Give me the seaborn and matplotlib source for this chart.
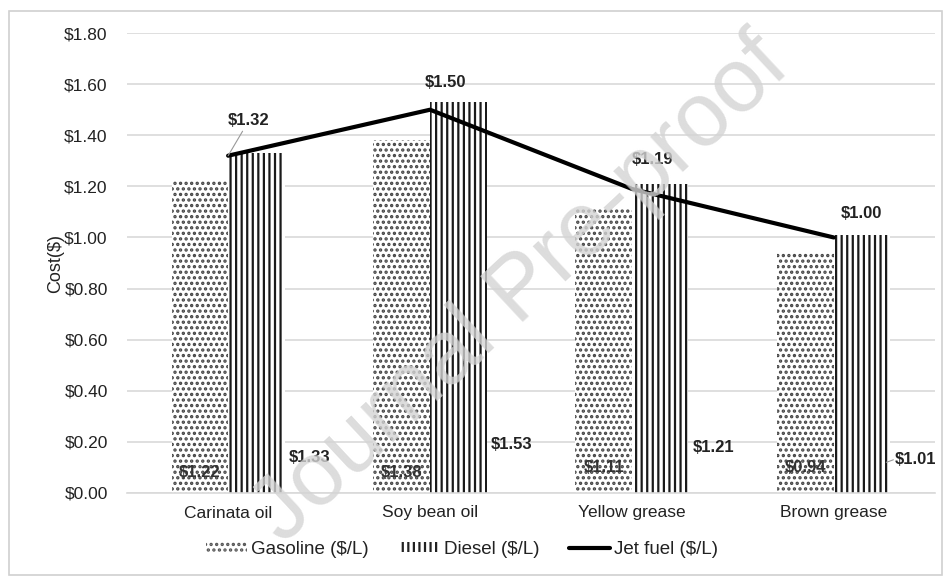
import matplotlib
matplotlib.use('Agg')
import matplotlib.pyplot as plt
import seaborn as sns
import pandas as pd
from matplotlib.patches import Patch, Rectangle
from matplotlib.lines import Line2D

sns.set_style('white')
plt.rcParams['font.family'] = ['Liberation Sans', 'DejaVu Sans']
plt.rcParams['hatch.linewidth'] = 1.6

# data
feedstocks = ['Carinata oil', 'Soy bean oil', 'Yellow grease', 'Brown grease']
gasoline = [1.22, 1.38, 1.11, 0.94]
diesel = [1.33, 1.53, 1.21, 1.01]
jet_fuel = [1.32, 1.50, 1.19, 1.00]
yticks = [0, 0.2, 0.4, 0.6, 0.8, 1.0, 1.2, 1.4, 1.6, 1.8]

# label placement as in the original (data y / offsets in points)
gas_label_y = [0.08, 0.08, 0.10, 0.10]
diesel_label_y = [0.14, 0.19, 0.18, 0.13]
jet_offsets = [(15, 20), (11, 14), (15, 16), (20, 12)]

df = pd.DataFrame({
    'feedstock': feedstocks * 2,
    'cost': gasoline + diesel,
    'fuel': ['Gasoline ($/L)'] * 4 + ['Diesel ($/L)'] * 4,
})

fig = plt.figure(figsize=(9.49, 5.8), dpi=100)
ax = fig.add_axes([0.134, 0.15, 0.851, 0.793])

# thin frame around the whole chart
fig.patches.append(Rectangle((0.01, 0.008), 0.983, 0.973, transform=fig.transFigure,
                             fill=False, edgecolor='#d0d0d0', linewidth=1.2))

sns.barplot(data=df, x='feedstock', y='cost', hue='fuel', order=feedstocks,
            palette=['white', 'white'], width=0.56, gap=0, saturation=1,
            edgecolor='none', linewidth=0, legend=False, ax=ax, zorder=2)

hatches = ['...'] * 4 + ['|||'] * 4
for bar, h in zip(ax.patches, hatches):
    bar.set_hatch(h)
    bar.set_edgecolor('#1a1a1a' if h == '|||' else '#444444')

sns.lineplot(x=feedstocks, y=jet_fuel, color='black', linewidth=3, ax=ax,
             sort=False, zorder=4)

gas_bars = ax.patches[:4]
die_bars = ax.patches[4:8]
for bar, v, ly in zip(gas_bars, gasoline, gas_label_y):
    ax.text(bar.get_x() + bar.get_width() / 2, ly, f'${v:.2f}',
            ha='center', va='center', fontsize=12, fontweight='bold',
            color='#333333', zorder=5)
for i, (bar, v, ly) in enumerate(zip(die_bars, diesel, diesel_label_y)):
    x_txt = bar.get_x() + bar.get_width() + 0.02
    ax.text(x_txt, ly, f'${v:.2f}', ha='left', va='center', fontsize=12,
            fontweight='bold', color='#222222', zorder=5)
    if i == 3:
        ax.plot([bar.get_x() + bar.get_width() - 0.02, x_txt - 0.005], [ly - 0.01, ly],
                color='#999999', linewidth=0.8, zorder=5)

for i, (v, off) in enumerate(zip(jet_fuel, jet_offsets)):
    ax.annotate(f'${v:.2f}', (i, v), xytext=off, textcoords='offset points',
                ha='center', va='bottom', fontsize=12, fontweight='bold',
                color='#222222', zorder=5,
                arrowprops=dict(arrowstyle='-', color='#999999', linewidth=0.8,
                                shrinkA=0, shrinkB=0) if i == 0 else None)

ax.set_ylim(0, 1.8)
ax.set_xlim(-0.5, 3.5)
ax.set_yticks(yticks)
ax.set_yticklabels([f'${t:.2f}' for t in yticks], fontsize=12.5, color='#222222')
ax.tick_params(axis='x', labelsize=12.5, length=0, pad=9, colors='#222222')
ax.tick_params(axis='y', length=0, pad=14)
ax.set_xlabel('')
ax.set_ylabel('Cost($)', fontsize=13, labelpad=0, color='#222222')
ax.yaxis.grid(True, color='#d9d9d9', linewidth=1.2)
ax.set_axisbelow(True)
for s in ['top', 'right', 'left']:
    ax.spines[s].set_visible(False)
ax.spines['bottom'].set_color('#d9d9d9')
ax.spines['bottom'].set_linewidth(1.2)

handles = [
    Patch(facecolor='white', edgecolor='#555555', hatch='...', linewidth=0),
    Patch(facecolor='white', edgecolor='#222222', hatch='|||', linewidth=0),
    Line2D([0], [0], color='black', linewidth=3),
]
fig.legend(handles, ['Gasoline ($/L)', 'Diesel ($/L)', 'Jet fuel ($/L)'],
           loc='center', bbox_to_anchor=(0.487, 0.053), ncol=3, frameon=False,
           fontsize=13.5, handlelength=2.2, handleheight=0.5, handletextpad=0.2,
           columnspacing=1.6, labelcolor='#222222')

# faint watermark of the source page
fig.text(0.55, 0.5, 'Journal Pre-proof', fontsize=65, rotation=43,
         ha='center', va='center', color='#d4d4d4', alpha=0.8, zorder=10)

fig.savefig('out.png', dpi=100)
